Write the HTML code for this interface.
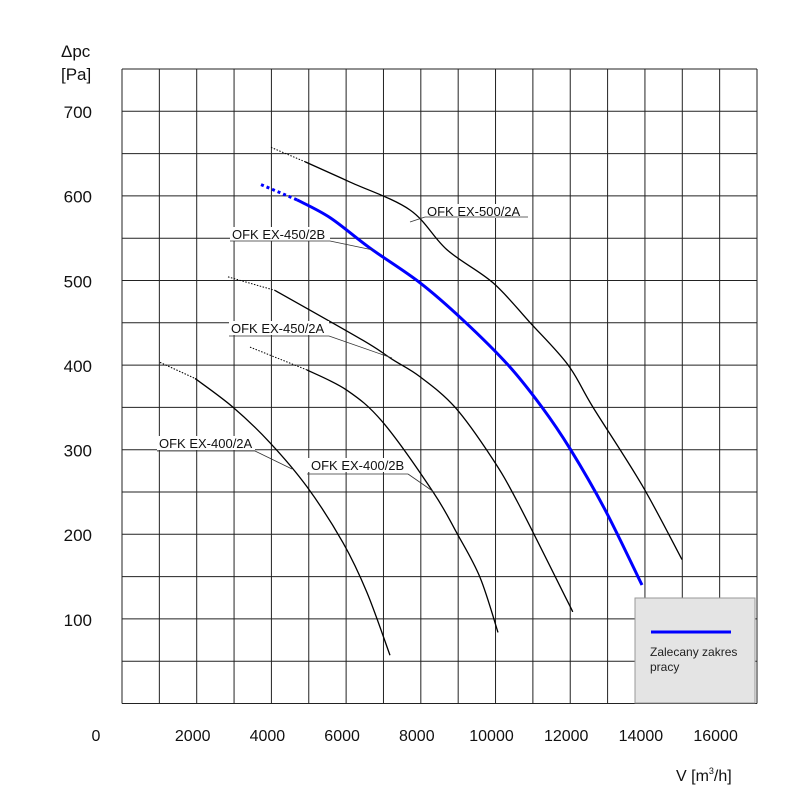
<!DOCTYPE html>
<html><head><meta charset="utf-8"><style>
html,body{margin:0;padding:0;background:#fff;}
svg{display:block;font-family:"Liberation Sans",Arial,sans-serif;}
</style></head><body>
<svg id="chart" width="800" height="800" viewBox="0 0 800 800">
<rect x="0" y="0" width="800" height="800" fill="#fff"/>
<g id="grid"></g>
<g id="curves"></g>
<g id="labels"></g>
<g id="axes"></g>
<text x="61" y="57" font-size="17" fill="#111">Δpc</text>
<text x="61" y="80" font-size="17" fill="#111">[Pa]</text>
<text x="676" y="781" font-size="16" fill="#111">V [m<tspan font-size="9" dy="-7">3</tspan><tspan dy="7">/h]</tspan></text>
<g>
<rect x="635" y="598" width="120" height="105" fill="#e4e4e4" stroke="#999" stroke-width="1"/>
<line x1="651" y1="632" x2="731" y2="632" stroke="#0000ff" stroke-width="3"/>
<text x="650" y="656" font-size="12" fill="#222">Zalecany zakres</text>
<text x="650" y="671" font-size="12" fill="#222">pracy</text>
</g>
</svg>
<script>
const xTicks=[0,2000,4000,6000,8000,10000,12000,14000,16000];
const yTicks=[100,200,300,400,500,600,700];
const seriesNames=["OFK EX-400/2A","OFK EX-400/2B","OFK EX-450/2A","OFK EX-450/2B","OFK EX-500/2A"];
const s400aX=[1017,1955,2972,3963,4953,5917,6560,7175];
const s400aY=[403,384,350,308,256,190,131,57];
const s400bX=[3427,4953,6024,6988,8327,8969,9585,10067];
const s400bY=[421,394,370,332,250,201,149,84];
const s450aX=[2838,4096,6452,7256,7979,8916,9906,10602,11914,12048];
const s450aY=[504,488,429,406,386,350,290,237,122,110];
const s450bX=[3722,4685,5569,6640,7979,9130,10335,11245,11995,12932,13922];
const s450bY=[613,595,574,538,497,453,400,350,301,229,140];
const s500aX=[3989,4900,6104,7711,8701,9933,10924,11941,12610,13922,14993];
const s500aY=[657,640,616,583,536,497,450,400,350,258,170];

const NS="http://www.w3.org/2000/svg";
const L=122,R=757,T=69,B=703.5;
const xs=v=>L+v*0.03735;
const ys=v=>B-v*0.8465;
function mk(tag,attrs,parent){const e=document.createElementNS(NS,tag);for(const k in attrs)e.setAttribute(k,attrs[k]);parent.appendChild(e);return e;}
const grid=document.getElementById('grid');
for(let i=0;i<=17;i++){const x=L+i*(R-L)/17;
const ln=mk('line',{x1:x,y1:T,x2:x,y2:B,stroke:'#222','stroke-width':1},grid);

}
for(let j=0;j<=15;j++){const y=T+j*(B-T)/15;
const ln=mk('line',{x1:L,y1:y,x2:R,y2:y,stroke:'#222','stroke-width':1},grid);

}
const axes=document.getElementById('axes');
xTicks.forEach(v=>{const t=mk('text',{x:v===0?96:xs(v)-4,y:741,'font-size':16,'text-anchor':'middle',fill:'#111'},axes);t.textContent=String(v);

});
yTicks.forEach(v=>{const t=mk('text',{x:92,y:ys(v)+7,'font-size':17,'text-anchor':'end',fill:'#111'},axes);t.textContent=String(v);

});
const curves=document.getElementById('curves');
const allX=[s400aX,s400bX,s450aX,s450bX,s500aX];
const allY=[s400aY,s400bY,s450aY,s450bY,s500aY];
allX.forEach((X,si)=>{
 const Y=allY[si];const blue=si===3;const col=blue?'#0000ff':'#000';const w=blue?3:1.3;
 const dot=mk('line',{x1:xs(X[0]),y1:ys(Y[0]),x2:xs(X[1]),y2:ys(Y[1]),stroke:col,'stroke-width':blue?3:1,'stroke-dasharray':blue?'3,3':'1.5,1.5'},curves);
 
 
 let d='M'+xs(X[1])+','+ys(Y[1]);
 const pts=[];for(let i=1;i<X.length;i++)pts.push([xs(X[i]),ys(Y[i])]);
 for(let i=0;i<pts.length-1;i++){const p0=pts[Math.max(0,i-1)],p1=pts[i],p2=pts[i+1],p3=pts[Math.min(pts.length-1,i+2)];
  const c1=[p1[0]+(p2[0]-p0[0])/6,p1[1]+(p2[1]-p0[1])/6],c2=[p2[0]-(p3[0]-p1[0])/6,p2[1]-(p3[1]-p1[1])/6];
  d+=' C'+c1[0]+','+c1[1]+' '+c2[0]+','+c2[1]+' '+p2[0]+','+p2[1];}
 const p=mk('path',{d:d,fill:'none',stroke:col,'stroke-width':w},curves);
 
 
});
const labels=document.getElementById('labels');
const labelBoxes=[[159,448,157,451,255,292,469],[311,470,307,474,408,434,492],[231,333,229,336,329,392,358],[232,239,230,241,330,373,250],[427,216,425,217,528,410,222]];
labelBoxes.forEach((b,i)=>{
 const bg=mk('rect',{x:b[2],y:b[1]-12,width:b[4]-b[2],height:14,fill:'#fff'},labels);
 
 
 const t=mk('text',{x:b[0],y:b[1],'font-size':13,fill:'#111'},labels);t.textContent=seriesNames[i];
 
 
 const u=mk('line',{x1:b[2],y1:b[3],x2:b[4],y2:b[3],stroke:'#333','stroke-width':0.8},labels);
 
 
 const lx=i===4?b[2]:b[4];
 const ld=mk('line',{x1:lx,y1:b[3],x2:b[5],y2:b[6],stroke:'#333','stroke-width':0.8},labels);
 
 
});
</script>
</body></html>
